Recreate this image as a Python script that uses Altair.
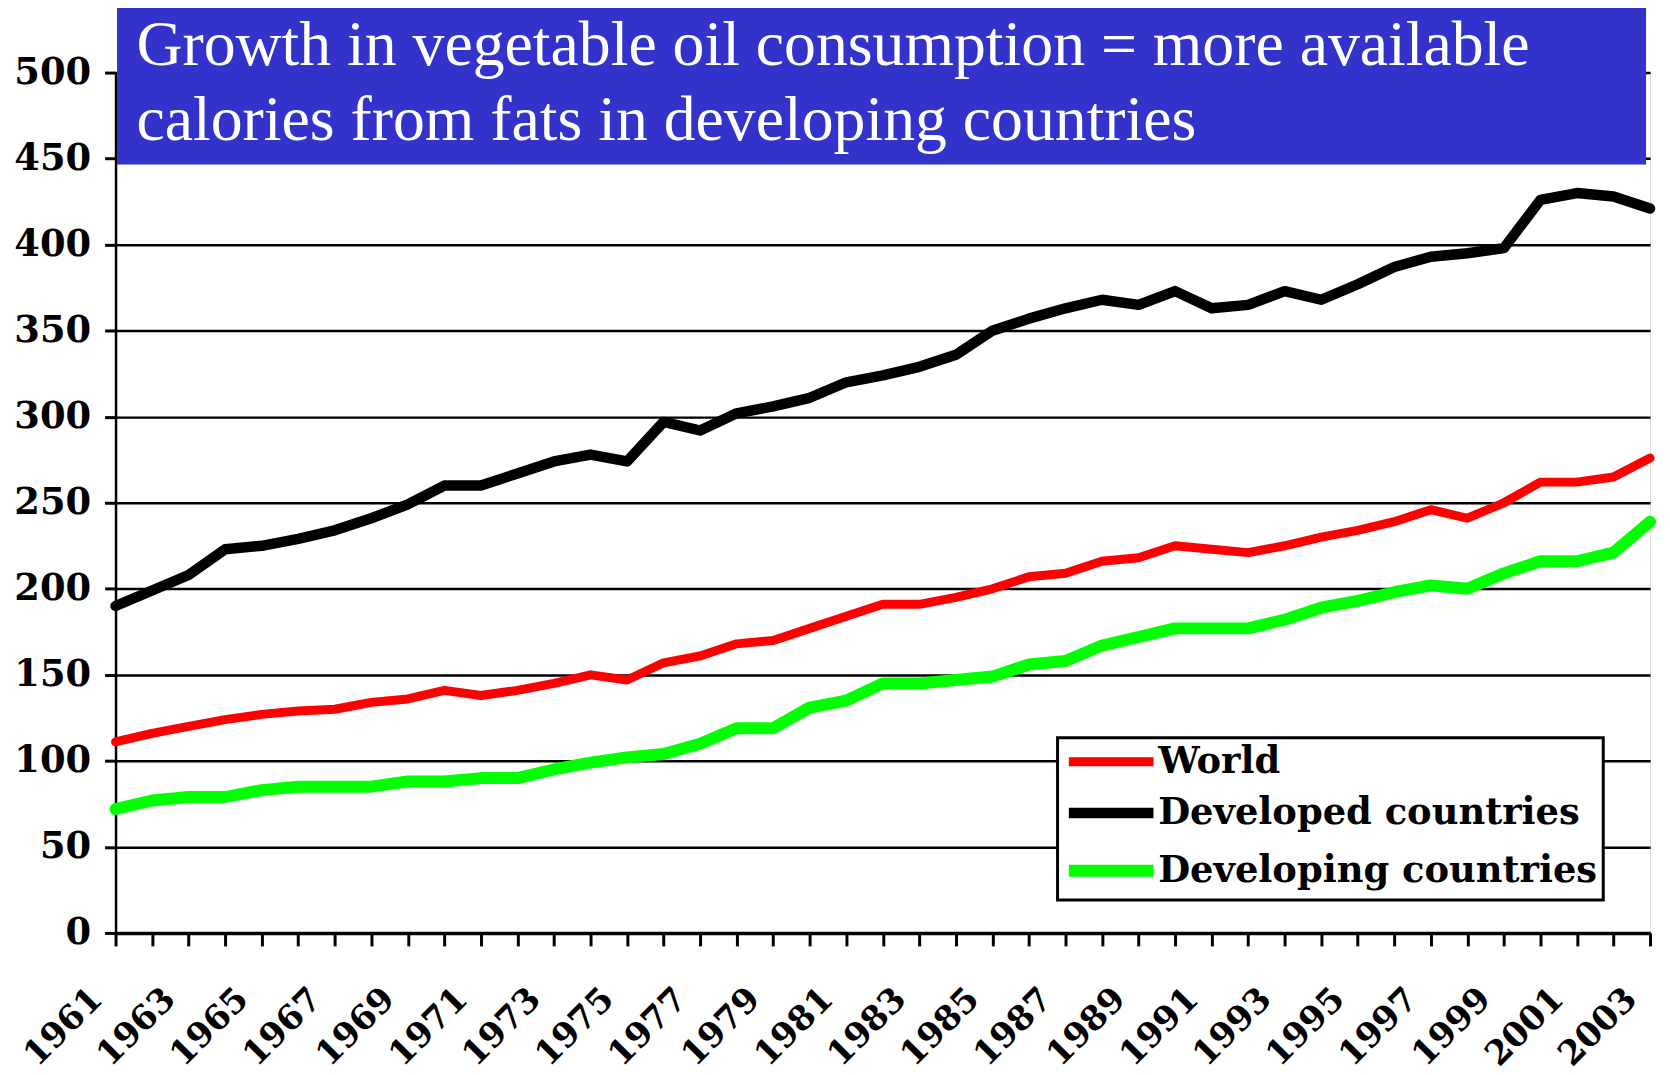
import altair as alt
import pandas as pd

years = list(range(1961, 2004))
world = [111, 116, 120, 124, 127, 129, 130, 134, 136, 141,
         138, 141, 145, 150, 147, 157, 161, 168, 170, 177,
         184, 191, 191, 195, 200, 207, 209, 216, 218, 225,
         223, 221, 225, 230, 234, 239, 246, 241, 250, 262,
         262, 265, 276]
developed = [190, 199, 208, 223, 225, 229, 234, 241, 249, 260,
             260, 267, 274, 278, 274, 297, 292, 302, 306, 311,
             320, 324, 329, 336, 350, 357, 363, 368, 365, 373,
             363, 365, 373, 368, 377, 387, 393, 395, 398, 426,
             430, 428, 421]
developing = [72, 77, 79, 79, 83, 85, 85, 85, 88, 88,
              90, 90, 95, 99, 102, 104, 110, 119, 119, 131,
              135, 145, 145, 147, 149, 156, 158, 167, 172, 177,
              177, 177, 182, 189, 193, 198, 202, 200, 209, 216,
              216, 221, 239]
series_names = ["World", "Developed countries", "Developing countries"]
series_colors = ["#FF0000", "#000000", "#00FF00"]
title_lines = ["Growth in vegetable oil consumption = more available",
               "calories from fats in developing countries"]
y_ticks = list(range(0, 501, 50))

rows = []
for name, vals in zip(series_names, [world, developed, developing]):
    for yr, v in zip(years, vals):
        rows.append({"year": yr, "value": v, "series": name})
df = pd.DataFrame(rows)

W, H = 1541, 864

x_enc = alt.X("year:Q",
              scale=alt.Scale(domain=[1961, 2003], nice=False, zero=False),
              axis=alt.Axis(values=years, title=None, grid=False,
                            labelExpr="datum.value % 2 == 1 ? datum.label : ''",
                            format="d", labelAngle=-45, labelAlign="right",
                            labelBaseline="alphabetic", labelPadding=55,
                            labelOffset=-12,
                            labelFont="DejaVu Serif", labelFontWeight="bold",
                            labelFontSize=34,
                            labelColor="black", labelOverlap=False,
                            labelFlush=False,
                            domainColor="black", domainWidth=3.5,
                            tickColor="black", tickWidth=3, tickSize=13))
y_enc = alt.Y("value:Q",
              scale=alt.Scale(domain=[0, 500], nice=False),
              axis=alt.Axis(values=y_ticks, title=None, grid=True,
                            gridColor="black", gridWidth=2.5, gridOpacity=1,
                            labelFont="DejaVu Serif", labelFontWeight="bold",
                            labelFontSize=37, labelColor="black",
                            labelPadding=14, labelOverlap=False,
                            domainColor="black", domainWidth=2.5,
                            tickColor="black", tickWidth=3, tickSize=11))

lines = alt.Chart(df).mark_line(strokeCap="round", strokeJoin="round").encode(
    x=x_enc,
    y=y_enc,
    color=alt.Color("series:N",
                    scale=alt.Scale(domain=series_names, range=series_colors),
                    sort=series_names,
                    legend=alt.Legend(title=None, orient="none",
                                      legendX=946, legendY=668,
                                      symbolType="M-1,0H5", symbolStrokeWidth=9,
                                      symbolSize=803,
                                      labelFont="DejaVu Serif",
                                      labelFontWeight="bold", labelFontSize=37,
                                      labelColor="black", labelOffset=55,
                                      labelLimit=0,
                                      fillColor="white", strokeColor="black",
                                      padding=5, rowPadding=12)),
    strokeWidth=alt.StrokeWidth("series:N",
                                scale=alt.Scale(domain=series_names, range=[9, 12, 9]),
                                legend=None),
)

one = pd.DataFrame({"a": [0]})
box = alt.Chart(one).mark_rect(color="#3333CC").encode(
    x=alt.value(1.5), x2=alt.value(1537), y=alt.value(-70), y2=alt.value(92.4))
t1 = alt.Chart(one).mark_text(align="left", baseline="alphabetic",
                              font="Liberation Serif", fontSize=64,
                              color="white").encode(
    x=alt.value(21), y=alt.value(-7.6), text=alt.value(title_lines[0]))
t2 = alt.Chart(one).mark_text(align="left", baseline="alphabetic",
                              font="Liberation Serif", fontSize=64,
                              color="white").encode(
    x=alt.value(21), y=alt.value(67.4), text=alt.value(title_lines[1]))

chart = alt.layer(lines, box, t1, t2).properties(
    width=W, height=H,
    autosize=alt.AutoSizeParams(type="none"),
    padding={"left": 108, "top": 62.6, "right": 12, "bottom": 140},
).configure_view(stroke=None).configure(background="white").configure_legend(
    strokeWidth=3)

chart.save("out.html", embed_options={"renderer": "svg", "actions": False})
